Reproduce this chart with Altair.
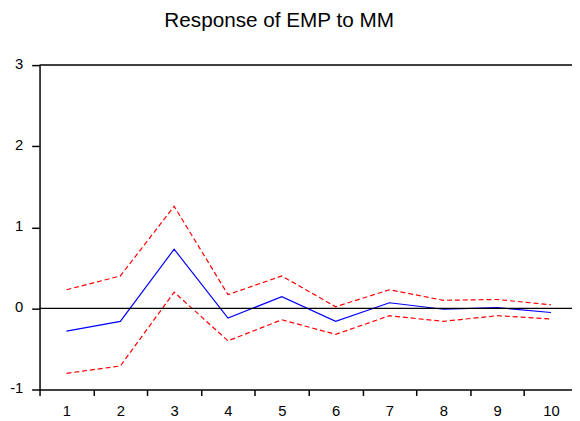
import altair as alt
import pandas as pd

steps = [1, 2, 3, 4, 5, 6, 7, 8, 9, 10]
response = [-0.28, -0.16, 0.73, -0.12, 0.145, -0.16, 0.07, -0.01, 0.01, -0.05]
upper = [0.23, 0.40, 1.26, 0.17, 0.40, 0.02, 0.23, 0.10, 0.11, 0.045]
lower = [-0.80, -0.71, 0.20, -0.40, -0.14, -0.32, -0.09, -0.16, -0.09, -0.13]
y_ticks = [-1, 0, 1, 2, 3]
title_text = "Response of EMP to MM"

df = pd.DataFrame({"step": steps, "response": response, "upper": upper, "lower": lower})

FONT = "Liberation Sans"
W, H = 540, 329
unit_px = 54.6

x_scale = alt.Scale(domain=[0.5, 0.5 + W / unit_px], nice=False, zero=False)
y_scale = alt.Scale(domain=[-1, 3], nice=False, zero=False)

x_axis = alt.Axis(
    values=steps, title=None, grid=False, tickSize=6, tickWidth=1.5, format="d",
    tickOffset=-unit_px / 2, labelOffset=unit_px / 2, labelPadding=8,
    labelFontSize=15, labelFont=FONT, labelColor="black",
    domainColor="black", domainWidth=1.5, tickColor="black",
)
y_axis = alt.Axis(
    values=y_ticks, title=None, grid=False, tickSize=8, tickWidth=1.5,
    labelPadding=9, labelFontSize=15, labelFont=FONT, labelColor="black",
    domainColor="black", domainWidth=1.5, tickColor="black",
    labelExpr="datum.value", labelOffset=-2,
)

base = alt.Chart(df)

resp_line = base.mark_line(color="#0000FF", strokeWidth=1.2).encode(
    x=alt.X("step:Q", scale=x_scale, axis=x_axis),
    y=alt.Y("response:Q", scale=y_scale, axis=y_axis),
)
up_line = base.mark_line(color="#FF0000", strokeWidth=1.2, strokeDash=[5, 3]).encode(
    x=alt.X("step:Q", scale=x_scale),
    y=alt.Y("upper:Q", scale=y_scale),
)
lo_line = base.mark_line(color="#FF0000", strokeWidth=1.2, strokeDash=[5, 3]).encode(
    x=alt.X("step:Q", scale=x_scale),
    y=alt.Y("lower:Q", scale=y_scale),
)
zero_rule = alt.Chart(pd.DataFrame({"v": [0]})).mark_rule(color="black", strokeWidth=1.3).encode(
    y=alt.Y("v:Q", scale=y_scale)
)
top_rule = alt.Chart(pd.DataFrame({"v": [3]})).mark_rule(color="black", strokeWidth=1.5).encode(
    y=alt.Y("v:Q", scale=y_scale)
)

chart = alt.layer(resp_line, up_line, lo_line, zero_rule, top_rule).properties(
    width=W,
    height=H,
    autosize=alt.AutoSizeParams(type="none"),
    padding={"left": 32, "top": 55, "right": 0, "bottom": 28},
    background="white",
    title=alt.TitleParams(
        text=title_text, font=FONT, fontSize=21, fontWeight="normal",
        color="black", anchor="middle", dx=-27, offset=9, baseline="alphabetic",
    ),
).configure_view(stroke=None)

chart.save("out.html", embed_options={"renderer": "svg", "actions": False})
